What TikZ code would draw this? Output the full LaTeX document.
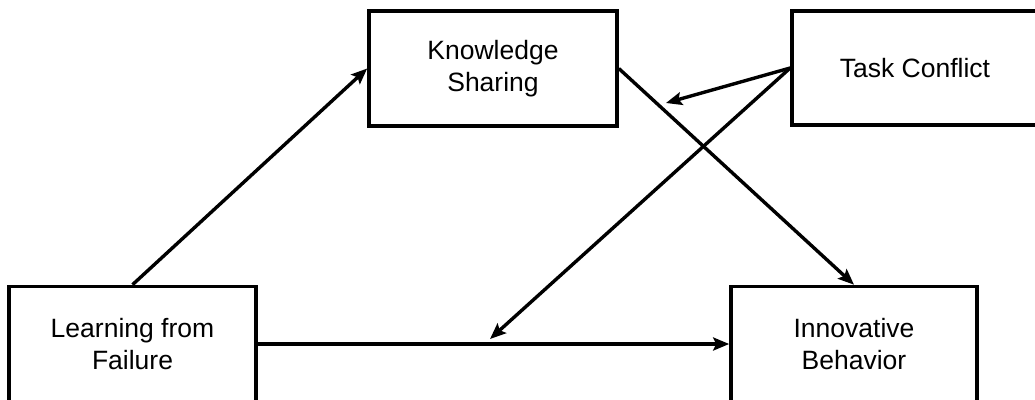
\documentclass[tikz,border=0pt]{standalone}
\usepackage{fontspec}
\setmainfont{Liberation Sans}
\usetikzlibrary{arrows.meta}
\begin{document}
\begin{tikzpicture}[x=1pt,y=-1pt,
  box/.style={draw=black, line width=3.6pt, fill=white, inner sep=0pt, align=center,
    font=\fontsize{26.5}{32}\selectfont},
  arr/.style={line width=3.4pt, -{Stealth[length=16pt,width=13pt,inset=3pt]}}]
\useasboundingbox (0,0) rectangle (1035,399);
\clip (0,0) rectangle (1035,399);
\node[box, minimum width=248pt, minimum height=115pt] (ks) at (493,68.5) {Knowledge\\Sharing};
\node[box, minimum width=246pt, minimum height=114pt] (tc) at (915,68) {Task Conflict};
\node[box, minimum width=247pt, minimum height=115pt] (lff) at (132.5,344) {Learning from\\Failure};
\node[box, minimum width=246pt, minimum height=115pt] (ib) at (854,344) {Innovative\\Behavior};
\coordinate (m1) at (666,103);
\coordinate (m2) at (490,339);
\draw[arr] (lff.north) -- (ks.west);
\draw[arr] (ks.east) -- (ib.north);
\draw[arr] (lff.east) -- (ib.west);
\draw[arr] (tc.west) -- (m1);
\draw[arr] (tc.west) -- (m2);
\end{tikzpicture}
\end{document}
